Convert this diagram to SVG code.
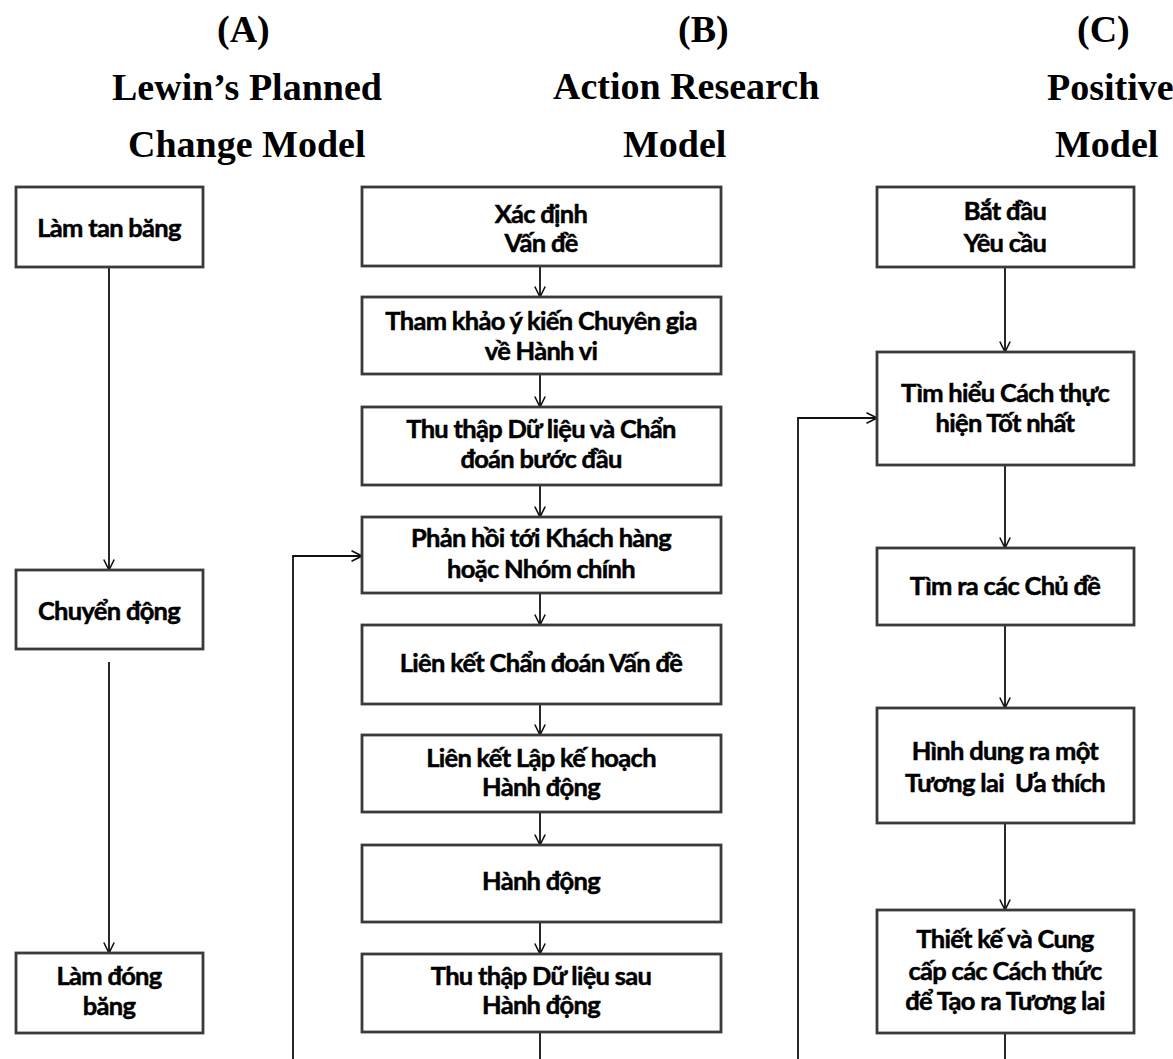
<svg xmlns="http://www.w3.org/2000/svg" width="1173" height="1059" viewBox="0 0 1173 1059">
  <style>
    .hd { font-family: "Liberation Serif", "Times New Roman", serif; font-weight: bold; font-size: 38px; fill: #000; }
    .box { fill: #fff; stroke: #3a3a3a; stroke-width: 2.8; }
    .lbl { font-family: Lato, "Noto Sans", sans-serif; font-weight: bold; font-size: 25.5px; fill: #000; stroke: #000; stroke-width: 0.5px; text-anchor: middle; letter-spacing: -0.7px; }
    .link { fill: none; stroke: #111; stroke-width: 1.8; }
  </style>
  <defs>
    <marker id="arrow" viewBox="0 0 12 12" refX="11.5" refY="6" markerWidth="12" markerHeight="12" markerUnits="userSpaceOnUse" orient="auto">
      <path d="M1,0.8 L11.5,6 L1,11.2" fill="none" stroke="#111" stroke-width="1.6"/>
    </marker>
  </defs>

  <rect width="1173" height="1059" fill="#fff"/>

  <!-- column headings -->
  <g id="headings">
    <text class="hd" x="217" y="42">(A)</text>
    <text class="hd" x="112" y="100">Lewin’s Planned</text>
    <text class="hd" x="128" y="157">Change Model</text>
    <text class="hd" x="678" y="42">(B)</text>
    <text class="hd" x="553" y="99">Action Research</text>
    <text class="hd" x="623" y="157">Model</text>
    <text class="hd" x="1077" y="42">(C)</text>
    <text class="hd" x="1047" y="100">Positive</text>
    <text class="hd" x="1055" y="157">Model</text>
  </g>

  <!-- connectors -->
  <g id="connectors">
    <!-- A: Lewin -->
    <line class="link" x1="109" y1="267" x2="109" y2="570" marker-end="url(#arrow)"/>
    <line class="link" x1="109" y1="662" x2="109" y2="953" marker-end="url(#arrow)"/>
    <!-- B: action research chain -->
    <line class="link" x1="540" y1="266" x2="540" y2="297" marker-end="url(#arrow)"/>
    <line class="link" x1="540" y1="374" x2="540" y2="407" marker-end="url(#arrow)"/>
    <line class="link" x1="540" y1="485" x2="540" y2="517" marker-end="url(#arrow)"/>
    <line class="link" x1="540" y1="593" x2="540" y2="625" marker-end="url(#arrow)"/>
    <line class="link" x1="540" y1="704" x2="540" y2="735" marker-end="url(#arrow)"/>
    <line class="link" x1="540" y1="812" x2="540" y2="845" marker-end="url(#arrow)"/>
    <line class="link" x1="540" y1="922" x2="540" y2="954" marker-end="url(#arrow)"/>
    <line class="link" x1="540" y1="1032" x2="540" y2="1059"/>
    <!-- B: feedback loop back to "Phản hồi" -->
    <polyline class="link" points="293,1059 293,556 362,556" marker-end="url(#arrow)"/>
    <!-- C: positive model chain -->
    <line class="link" x1="1005" y1="267" x2="1005" y2="352" marker-end="url(#arrow)"/>
    <line class="link" x1="1005" y1="465" x2="1005" y2="548" marker-end="url(#arrow)"/>
    <line class="link" x1="1005" y1="625" x2="1005" y2="708" marker-end="url(#arrow)"/>
    <line class="link" x1="1005" y1="823" x2="1005" y2="910" marker-end="url(#arrow)"/>
    <line class="link" x1="1005" y1="1033" x2="1005" y2="1059"/>
    <!-- C: feedback loop back to "Tìm hiểu" -->
    <polyline class="link" points="798,1059 798,418 877,418" marker-end="url(#arrow)"/>
  </g>

  <!-- A nodes -->
  <g id="a1">
    <rect class="box" x="16" y="187" width="187" height="80"/>
    <text class="lbl" x="109" y="237">Làm tan băng</text>
  </g>
  <g id="a2">
    <rect class="box" x="16" y="570" width="187" height="79"/>
    <text class="lbl" x="109" y="620">Chuyển động</text>
  </g>
  <g id="a3">
    <rect class="box" x="16" y="953" width="187" height="80"/>
    <text class="lbl" x="109" y="985">Làm đóng</text>
    <text class="lbl" x="109" y="1015">băng</text>
  </g>

  <!-- B nodes -->
  <g id="b1">
    <rect class="box" x="362" y="187" width="359" height="79"/>
    <text class="lbl" x="541" y="223">Xác định</text>
    <text class="lbl" x="541" y="252">Vấn đề</text>
  </g>
  <g id="b2">
    <rect class="box" x="362" y="297" width="359" height="77"/>
    <text class="lbl" x="541" y="330">Tham khảo ý kiến Chuyên gia</text>
    <text class="lbl" x="541" y="360">về Hành vi</text>
  </g>
  <g id="b3">
    <rect class="box" x="362" y="407" width="359" height="78"/>
    <text class="lbl" x="541" y="438">Thu thập Dữ liệu và Chẩn</text>
    <text class="lbl" x="541" y="468">đoán bước đầu</text>
  </g>
  <g id="b4">
    <rect class="box" x="362" y="517" width="359" height="76"/>
    <text class="lbl" x="541" y="547">Phản hồi tới Khách hàng</text>
    <text class="lbl" x="541" y="578">hoặc Nhóm chính</text>
  </g>
  <g id="b5">
    <rect class="box" x="362" y="625" width="359" height="79"/>
    <text class="lbl" x="541" y="672">Liên kết Chẩn đoán Vấn đề</text>
  </g>
  <g id="b6">
    <rect class="box" x="362" y="735" width="359" height="77"/>
    <text class="lbl" x="541" y="767">Liên kết Lập kế hoạch</text>
    <text class="lbl" x="541" y="796">Hành động</text>
  </g>
  <g id="b7">
    <rect class="box" x="362" y="845" width="359" height="77"/>
    <text class="lbl" x="541" y="890">Hành động</text>
  </g>
  <g id="b8">
    <rect class="box" x="362" y="954" width="359" height="78"/>
    <text class="lbl" x="541" y="985">Thu thập Dữ liệu sau</text>
    <text class="lbl" x="541" y="1014">Hành động</text>
  </g>

  <!-- C nodes -->
  <g id="c1">
    <rect class="box" x="877" y="187" width="257" height="80"/>
    <text class="lbl" x="1005" y="220">Bắt đầu</text>
    <text class="lbl" x="1005" y="252">Yêu cầu</text>
  </g>
  <g id="c2">
    <rect class="box" x="877" y="352" width="257" height="113"/>
    <text class="lbl" x="1005" y="402">Tìm hiểu Cách thực</text>
    <text class="lbl" x="1005" y="432">hiện Tốt nhất</text>
  </g>
  <g id="c3">
    <rect class="box" x="877" y="548" width="257" height="77"/>
    <text class="lbl" x="1005" y="595">Tìm ra  các Chủ đề</text>
  </g>
  <g id="c4">
    <rect class="box" x="877" y="708" width="257" height="115"/>
    <text class="lbl" x="1005" y="760">Hình dung ra một</text>
    <text class="lbl" x="1005" y="792" xml:space="preserve">Tương lai  Ưa thích</text>
  </g>
  <g id="c5">
    <rect class="box" x="877" y="910" width="257" height="123"/>
    <text class="lbl" x="1005" y="948">Thiết kế và Cung</text>
    <text class="lbl" x="1005" y="980">cấp các Cách thức</text>
    <text class="lbl" x="1005" y="1010">để Tạo ra Tương lai</text>
  </g>
</svg>
